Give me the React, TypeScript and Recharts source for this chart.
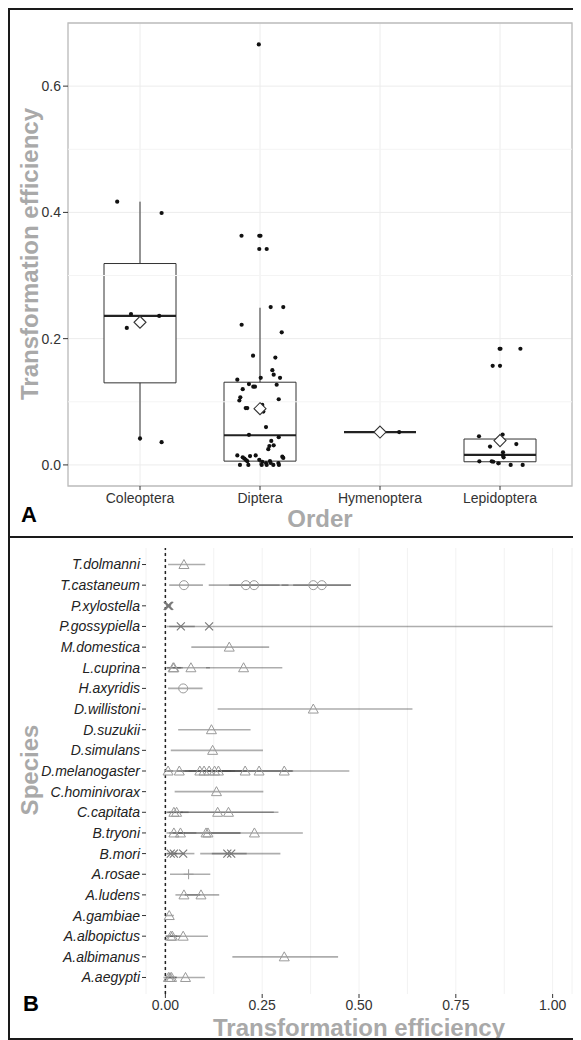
import React from 'react';
import { ComposedChart, Scatter, XAxis, YAxis, CartesianGrid, ReferenceLine, ReferenceArea, ErrorBar } from 'recharts';

// ---------- panel A: efficiency by order ----------
const orders = ['Coleoptera', 'Diptera', 'Hymenoptera', 'Lepidoptera'];

// box stats
const boxLow = [0.038, 0.0, 0.052, 0.0];
const boxQ1 = [0.13, 0.006, 0.052, 0.005];
const boxMedian = [0.236, 0.047, 0.052, 0.016];
const boxQ3 = [0.319, 0.131, 0.052, 0.041];
const boxHigh = [0.417, 0.249, 0.052, 0.048];
const boxMean = [0.226, 0.089, 0.052, 0.0385];

// jittered raw points (value, horizontal jitter in category units)
const coleopteraValues = [0.417, 0.399, 0.239, 0.236, 0.217, 0.042, 0.036];
const coleopteraJitter = [-0.19, 0.18, -0.075, 0.16, -0.11, 0.0, 0.18];

const dipteraValues = [
  0.666, 0.363, 0.363, 0.363, 0.342, 0.342, 0.25, 0.25, 0.222, 0.21,
  0.173, 0.17, 0.15, 0.143, 0.138, 0.138, 0.135, 0.128, 0.127, 0.124,
  0.124, 0.12, 0.107, 0.102, 0.104, 0.09, 0.09, 0.095, 0.0845, 0.06,
  0.0476, 0.044, 0.038, 0.03, 0.031, 0.025, 0.015, 0.012, 0.01, 0.008,
  0.006, 0.014, 0.015, 0.008, 0.005, 0.003, 0.006, 0.003, 0.003, 0.013,
  0.011, 0.0, 0.0, 0.0, 0.0, 0.0, 0.0,
];
const dipteraJitter = [
  -0.01, -0.154, -0.006, 0.004, -0.006, 0.056, 0.089, 0.194, -0.153, 0.181,
  -0.058, 0.128, 0.103, 0.114, 0.167, 0.006, -0.189, -0.092, 0.139, -0.056,
  -0.042, -0.144, -0.164, -0.172, 0.156, -0.119, -0.106, 0.019, 0.028, 0.05,
  -0.092, 0.156, 0.094, 0.078, 0.114, 0.069, -0.189, -0.144, -0.13, -0.119,
  -0.106, -0.083, -0.036, -0.006, 0.019, 0.05, 0.083, 0.089, 0.153, 0.186,
  0.194, -0.167, -0.097, 0.014, 0.056, 0.111, 0.158,
];

const hymenopteraValues = [0.052];
const hymenopteraJitter = [0.16];

const lepidopteraValues = [0.184, 0.184, 0.184, 0.157, 0.157, 0.0454, 0.048, 0.029, 0.033, 0.02, 0.015, 0.012, 0.0057, 0.0057, 0.005, 0.0025, 0.0, 0.0];
const lepidopteraJitter = [-0.003, 0.004, 0.17, -0.061, 0.0, -0.175, 0.022, -0.083, 0.136, 0.025, 0.025, 0.03, -0.172, -0.069, -0.056, -0.014, 0.089, 0.189];

// ---------- panel B: efficiency by species ----------
const species = [
  'T.dolmanni', 'T.castaneum', 'P.xylostella', 'P.gossypiella', 'M.domestica', 'L.cuprina',
  'H.axyridis', 'D.willistoni', 'D.suzukii', 'D.simulans', 'D.melanogaster', 'C.hominivorax',
  'C.capitata', 'B.tryoni', 'B.mori', 'A.rosae', 'A.ludens', 'A.gambiae', 'A.albopictus',
  'A.albimanus', 'A.aegypti',
];

// [species, estimate, lower, upper]
const dipteraEstimates: [string, number, number, number][] = [
  ['T.dolmanni', 0.048, 0.007, 0.103],
  ['M.domestica', 0.165, 0.067, 0.268],
  ['L.cuprina', 0.02, 0.002, 0.04],
  ['L.cuprina', 0.022, 0.004, 0.045],
  ['L.cuprina', 0.066, 0.02, 0.115],
  ['L.cuprina', 0.202, 0.105, 0.302],
  ['D.willistoni', 0.382, 0.135, 0.638],
  ['D.suzukii', 0.119, 0.033, 0.22],
  ['D.simulans', 0.122, 0.014, 0.252],
  ['D.melanogaster', 0.007, 0.0, 0.02],
  ['D.melanogaster', 0.036, 0.005, 0.07],
  ['D.melanogaster', 0.089, 0.03, 0.15],
  ['D.melanogaster', 0.1, 0.04, 0.17],
  ['D.melanogaster', 0.113, 0.05, 0.18],
  ['D.melanogaster', 0.127, 0.06, 0.2],
  ['D.melanogaster', 0.137, 0.07, 0.21],
  ['D.melanogaster', 0.206, 0.1, 0.328],
  ['D.melanogaster', 0.242, 0.14, 0.33],
  ['D.melanogaster', 0.307, 0.15, 0.475],
  ['C.hominivorax', 0.132, 0.024, 0.253],
  ['C.capitata', 0.022, 0.002, 0.045],
  ['C.capitata', 0.029, 0.005, 0.06],
  ['C.capitata', 0.135, 0.01, 0.28],
  ['C.capitata', 0.163, 0.04, 0.292],
  ['B.tryoni', 0.022, 0.003, 0.05],
  ['B.tryoni', 0.039, 0.01, 0.08],
  ['B.tryoni', 0.105, 0.02, 0.194],
  ['B.tryoni', 0.11, 0.03, 0.194],
  ['B.tryoni', 0.23, 0.11, 0.355],
  ['A.ludens', 0.048, 0.026, 0.09],
  ['A.ludens', 0.092, 0.05, 0.139],
  ['A.gambiae', 0.01, 0.0, 0.022],
  ['A.albopictus', 0.014, 0.0, 0.03],
  ['A.albopictus', 0.018, 0.002, 0.04],
  ['A.albopictus', 0.046, 0.01, 0.11],
  ['A.albimanus', 0.307, 0.173, 0.446],
  ['A.aegypti', 0.008, -0.005, 0.02],
  ['A.aegypti', 0.012, 0.0, 0.028],
  ['A.aegypti', 0.016, 0.002, 0.03],
  ['A.aegypti', 0.052, 0.01, 0.102],
];

const coleopteraEstimates: [string, number, number, number][] = [
  ['T.castaneum', 0.048, 0.01, 0.097],
  ['T.castaneum', 0.208, 0.112, 0.318],
  ['T.castaneum', 0.229, 0.165, 0.295],
  ['T.castaneum', 0.382, 0.3, 0.479],
  ['T.castaneum', 0.404, 0.33, 0.479],
  ['H.axyridis', 0.046, 0.007, 0.096],
];

const lepidopteraEstimates: [string, number, number, number][] = [
  ['P.xylostella', 0.006, 0.002, 0.012],
  ['P.xylostella', 0.008, 0.003, 0.013],
  ['P.xylostella', 0.01, 0.005, 0.015],
  ['P.gossypiella', 0.04, 0.003, 0.076],
  ['P.gossypiella', 0.113, 0.01, 1.0],
  ['B.mori', 0.014, 0.002, 0.03],
  ['B.mori', 0.022, 0.004, 0.05],
  ['B.mori', 0.046, 0.02, 0.075],
  ['B.mori', 0.16, 0.12, 0.21],
  ['B.mori', 0.17, 0.09, 0.297],
];

const hymenopteraEstimates: [string, number, number, number][] = [
  ['A.rosae', 0.06, 0.012, 0.116],
];

const FONT = '"Liberation Sans", Arial, sans-serif';
const TITLE_GREY = '#a9a9a9';

const toPoints = (values: number[], jitter: number[], cat: number) =>
  values.map((v, i) => ({ x: cat + jitter[i], y: v }));

const toRows = (list: [string, number, number, number][]) =>
  list.map(([sp, est, lo, hi]) => ({ row: species.indexOf(sp) + 1, est, err: [est - lo, hi - est] }));

const Dot = (p: any) => <circle cx={p.cx} cy={p.cy} r={2.1} fill="#111" />;
const Diamond = (p: any) => (
  <path
    d={`M${p.cx},${p.cy - 6}L${p.cx + 6},${p.cy}L${p.cx},${p.cy + 6}L${p.cx - 6},${p.cy}Z`}
    fill="#fff"
    stroke="#333"
    strokeWidth={1.1}
  />
);

const SYM = '#9a9a9a';
const Triangle = (p: any) => (
  <path d={`M${p.cx},${p.cy - 5}L${p.cx + 5},${p.cy + 4}L${p.cx - 5},${p.cy + 4}Z`} fill="none" stroke={SYM} strokeWidth={1} />
);
const Ring = (p: any) => <circle cx={p.cx} cy={p.cy} r={4.5} fill="none" stroke={SYM} strokeWidth={1} />;
const Cross = (p: any) => (
  <path d={`M${p.cx - 4},${p.cy - 4}L${p.cx + 4},${p.cy + 4}M${p.cx - 4},${p.cy + 4}L${p.cx + 4},${p.cy - 4}`} stroke="#777" strokeWidth={1.1} />
);
const Plus = (p: any) => (
  <path d={`M${p.cx - 5},${p.cy}L${p.cx + 5},${p.cy}M${p.cx},${p.cy - 5}L${p.cx},${p.cy + 5}`} stroke={SYM} strokeWidth={1} />
);

const PanelA = () => {
  const pts = [
    ...toPoints(coleopteraValues, coleopteraJitter, 1),
    ...toPoints(dipteraValues, dipteraJitter, 2),
    ...toPoints(hymenopteraValues, hymenopteraJitter, 3),
    ...toPoints(lepidopteraValues, lepidopteraJitter, 4),
  ];
  const means = boxMean.map((m, i) => ({ x: i + 1, y: m }));
  return (
    <ComposedChart width={573} height={530} margin={{ top: 15, right: 9, bottom: 0, left: 0 }}>
      <CartesianGrid stroke="#ececec" />
      {[0.1, 0.3, 0.5].map((v) => (
        <ReferenceLine key={v} y={v} stroke="#f4f4f4" />
      ))}
      <XAxis
        type="number"
        dataKey="x"
        domain={[0.4, 4.6]}
        ticks={[1, 2, 3, 4]}
        tickFormatter={(i: number) => orders[i - 1]}
        allowDataOverflow
        axisLine={false}
        tickSize={4}
        tickMargin={3}
        tickLine={{ stroke: '#333' }}
        tick={{ fontSize: 14, fill: '#333', fontFamily: FONT }}
        height={52}
      />
      <YAxis
        type="number"
        dataKey="y"
        domain={[-0.0334, 0.7]}
        ticks={[0, 0.2, 0.4, 0.6]}
        tickFormatter={(v: number) => v.toFixed(1)}
        allowDataOverflow
        axisLine={false}
        tickSize={5}
        tickLine={{ stroke: '#333' }}
        tick={{ fontSize: 14, fill: '#333', fontFamily: FONT }}
        width={60}
      />
      <ReferenceArea x1={0.4} x2={4.6} y1={-0.0334} y2={0.7} fill="none" fillOpacity={0} stroke="#bdbdbd" strokeWidth={1.3} />
      {orders.map((o, i) => (
        <ReferenceArea
          key={o}
          x1={i + 1 - 0.3}
          x2={i + 1 + 0.3}
          y1={boxQ1[i]}
          y2={boxQ3[i]}
          fill="#fff"
          fillOpacity={1}
          stroke="#333"
          strokeWidth={1}
        />
      ))}
      {orders.map((o, i) => (
        <ReferenceLine key={o + 'u'} segment={[{ x: i + 1, y: boxQ3[i] }, { x: i + 1, y: boxHigh[i] }]} stroke="#333" />
      ))}
      {orders.map((o, i) => (
        <ReferenceLine key={o + 'l'} segment={[{ x: i + 1, y: boxLow[i] }, { x: i + 1, y: boxQ1[i] }]} stroke="#333" />
      ))}
      {orders.map((o, i) => (
        <ReferenceLine
          key={o + 'm'}
          segment={[{ x: i + 1 - 0.3, y: boxMedian[i] }, { x: i + 1 + 0.3, y: boxMedian[i] }]}
          stroke="#222"
          strokeWidth={2.2}
        />
      ))}
      <Scatter data={pts} shape={Dot} isAnimationActive={false} />
      <Scatter data={means} shape={Diamond} isAnimationActive={false} />
    </ComposedChart>
  );
};

const PanelB = () => {
  const barStyle = { stroke: '#4a4a4a', strokeOpacity: 0.45, strokeWidth: 1.6 };
  return (
    <ComposedChart width={573} height={490} margin={{ top: 8, right: 9, bottom: 0, left: 0 }}>
      <CartesianGrid horizontal={false} stroke="#f2f2f2" />
      {[0.125, 0.375, 0.625, 0.875].map((v) => (
        <ReferenceLine key={v} x={v} stroke="#f2f2f2" />
      ))}
      <XAxis
        type="number"
        dataKey="est"
        domain={[-0.05, 1.05]}
        ticks={[0, 0.25, 0.5, 0.75, 1]}
        tickFormatter={(v: number) => v.toFixed(2)}
        allowDataOverflow
        axisLine={false}
        tickSize={4}
        tickMargin={2}
        tickLine={{ stroke: '#333' }}
        tick={{ fontSize: 14, fill: '#333', fontFamily: FONT }}
        height={36}
      />
      <YAxis
        type="number"
        dataKey="row"
        domain={[0.2, 21.8]}
        reversed
        ticks={species.map((_, i) => i + 1)}
        interval={0}
        tickFormatter={(i: number) => species[i - 1]}
        allowDataOverflow
        axisLine={false}
        tickSize={4}
        tickLine={{ stroke: '#333' }}
        tick={{ fontSize: 14, fill: '#222', fontFamily: FONT, fontStyle: 'italic' }}
        width={138}
      />
      <ReferenceLine x={0} stroke="#222" strokeWidth={1.5} strokeDasharray="3 3" />
      <Scatter data={toRows(dipteraEstimates)} shape={Triangle} isAnimationActive={false}>
        <ErrorBar dataKey="err" direction="x" width={0} {...barStyle} />
      </Scatter>
      <Scatter data={toRows(coleopteraEstimates)} shape={Ring} isAnimationActive={false}>
        <ErrorBar dataKey="err" direction="x" width={0} {...barStyle} />
      </Scatter>
      <Scatter data={toRows(lepidopteraEstimates)} shape={Cross} isAnimationActive={false}>
        <ErrorBar dataKey="err" direction="x" width={0} {...barStyle} />
      </Scatter>
      <Scatter data={toRows(hymenopteraEstimates)} shape={Plus} isAnimationActive={false}>
        <ErrorBar dataKey="err" direction="x" width={0} {...barStyle} />
      </Scatter>
    </ComposedChart>
  );
};

const titleStyle: React.CSSProperties = {
  position: 'absolute',
  fontFamily: FONT,
  fontWeight: 'bold',
  fontSize: 24,
  lineHeight: '24px',
  color: TITLE_GREY,
  textAlign: 'center',
  whiteSpace: 'nowrap',
};

const panelLetter: React.CSSProperties = {
  position: 'absolute',
  fontFamily: FONT,
  fontWeight: 'bold',
  fontSize: 22,
  lineHeight: '22px',
  color: '#000',
};

export default function App() {
  return (
    <div style={{ position: 'relative', width: 573, height: 1032, fontFamily: FONT }}>
      <div style={{ position: 'absolute', left: 0, top: 0 }}>
        <PanelA />
      </div>
      <div style={{ position: 'absolute', left: 0, top: 532 }}>
        <PanelB />
      </div>

      {/* axis titles */}
      <div style={{ ...titleStyle, left: 22 - 200, top: 254 - 8 - 12, width: 400, transform: 'rotate(-90deg)' }}>
        Transformation efficiency
      </div>
      <div style={{ ...titleStyle, left: 312 - 100, top: 499, width: 200 }}>Order</div>
      <div style={{ ...titleStyle, left: 22 - 100, top: 770 - 8 - 12, width: 200, transform: 'rotate(-90deg)' }}>
        Species
      </div>
      <div style={{ ...titleStyle, left: 351 - 200, top: 1008, width: 400 }}>Transformation efficiency</div>

      <div style={{ ...panelLetter, left: 13, top: 496 }}>A</div>
      <div style={{ ...panelLetter, left: 15, top: 985 }}>B</div>

      {/* figure frame */}
      <div style={{ position: 'absolute', left: 0, top: 0, width: 575, height: 1028, borderTop: '2px solid #1a1a1a', borderLeft: '2px solid #1a1a1a', borderBottom: '2px solid #1a1a1a', pointerEvents: 'none' }} />
      <div style={{ position: 'absolute', left: 0, top: 528, width: 575, height: 2, background: '#1a1a1a' }} />
    </div>
  );
}
